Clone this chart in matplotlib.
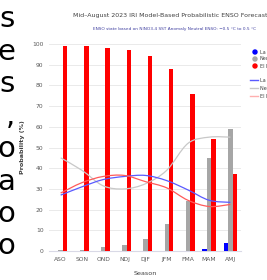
import matplotlib
matplotlib.use('Agg')
import numpy as np
from matplotlib import pyplot as plt
from matplotlib.path import Path
from matplotlib.patches import PathPatch

seasons = ['ASO', 'SON', 'OND', 'NDJ', 'DJF', 'JFM', 'FMA', 'MAM', 'AMJ']
la_nina = [0, 0, 0, 0, 0, 0, 0, 1, 4]
neutral = [0.5, 0.5, 2, 3, 6, 13, 24, 45, 59]
el_nino = [99, 99, 98, 97, 94, 88, 76, 54, 37]
la_nina_clim = [27, 31, 34.5, 36, 36.5, 34, 29.5, 24.5, 23.5]
neutral_clim = [45, 39, 31.5, 30, 32.5, 39, 52, 55, 55]
el_nino_clim = [28, 33, 36, 36.5, 33.5, 30.5, 24.5, 21.5, 22.5]
side_letters = ['s', 'e', 's', ',', 'o', 'a', 'o', 'o']


def smooth_path(xs, ys):
    # cubic bezier through the points, like the spreadsheet "smoothed line"
    verts = [(xs[0], ys[0])]
    codes = [Path.MOVETO]
    n = len(xs)
    for i in range(n - 1):
        p0 = (xs[max(i - 1, 0)], ys[max(i - 1, 0)])
        p1 = (xs[i], ys[i])
        p2 = (xs[i + 1], ys[i + 1])
        p3 = (xs[min(i + 2, n - 1)], ys[min(i + 2, n - 1)])
        c1 = (p1[0] + (p2[0] - p0[0]) / 6, p1[1] + (p2[1] - p0[1]) / 6)
        c2 = (p2[0] - (p3[0] - p1[0]) / 6, p2[1] - (p3[1] - p1[1]) / 6)
        verts += [c1, c2, p2]
        codes += [Path.CURVE4] * 3
    return Path(verts, codes)


fig = plt.figure(figsize=(2.67, 2.80), dpi=100)
ax = fig.add_axes([49 / 267, 29 / 280, 192 / 267, 207 / 280])

x = np.arange(len(seasons))
w = 0.21
ax.bar(x - w, la_nina, w, color='#0000ff', zorder=3)
ax.bar(x, neutral, w, color='#a6a6a6', zorder=3)
ax.bar(x + w, el_nino, w, color='#ff0000', zorder=3)

for vals, col in [(neutral_clim, '#c8c8c8'), (la_nina_clim, '#5a5aff'), (el_nino_clim, '#ff5a5a')]:
    ax.add_patch(PathPatch(smooth_path(x, vals), fill=False, edgecolor=col, lw=0.9, zorder=4))

ax.set_xlim(-0.55, 8.5)
ax.set_ylim(0, 100)
ax.set_yticks(range(0, 101, 10))
ax.set_xticks(x)
ax.set_xticklabels(seasons)
ax.tick_params(labelsize=4.3, colors='#595959', length=0, pad=4)
ax.grid(axis='y', color='#e6e6e6', lw=0.6, zorder=0)
for s in ['top', 'right', 'left']:
    ax.spines[s].set_visible(False)
ax.spines['bottom'].set_color('#d9d9e6')
ax.spines['bottom'].set_linewidth(0.8)
ax.set_ylabel('Probability (%)', fontsize=4.6, color='#404040', fontweight='bold', labelpad=5)
ax.set_xlabel('Season', fontsize=4.6, color='#404040', labelpad=7)

fig.text(73 / 267, 1 - 15 / 280, 'Mid\u2013August 2023 IRI Model-Based Probabilistic ENSO Forecasts',
         fontsize=4.5, color='#404040', va='center')
fig.text(93 / 267, 1 - 29 / 280,
         'ENSO state based on NINO3.4 SST Anomaly Neutral ENSO: \u22120.5 \u00b0C to 0.5 \u00b0C',
         fontsize=3.05, color='#4040a0', va='center')

# legend, cut off by the right edge
leg_labels = ['La Ni\u00f1a', 'Neutral', 'El Ni\u00f1o']
leg_cols = ['#0000ff', '#a6a6a6', '#ff0000']
line_cols = ['#5a5aff', '#c8c8c8', '#ffb0b0']
for i in range(3):
    yy = 1 - (52 + 7 * i) / 280
    fig.patches.append(matplotlib.patches.Ellipse((255 / 267, yy), 4 / 267, 4 / 280,
                                                  color=leg_cols[i], transform=fig.transFigure))
    fig.text(260 / 267, yy, leg_labels[i], fontsize=3.5, color='#404040', va='center')
    yl = 1 - (80 + 8 * i) / 280
    fig.add_artist(matplotlib.lines.Line2D([250 / 267, 258 / 267], [yl, yl], color=line_cols[i],
                                           lw=1, transform=fig.transFigure))
    fig.text(260 / 267, yl, leg_labels[i] + ' Clim.', fontsize=3.5, color='#404040', va='center')

# big letters from the page text to the left
for i, ch in enumerate(side_letters):
    fig.text(15 / 267, 1 - (19 + 32.5 * i) / 280, ch, fontsize=21, color='black',
             ha='right', va='center')

fig.savefig('out.png', dpi=100)
